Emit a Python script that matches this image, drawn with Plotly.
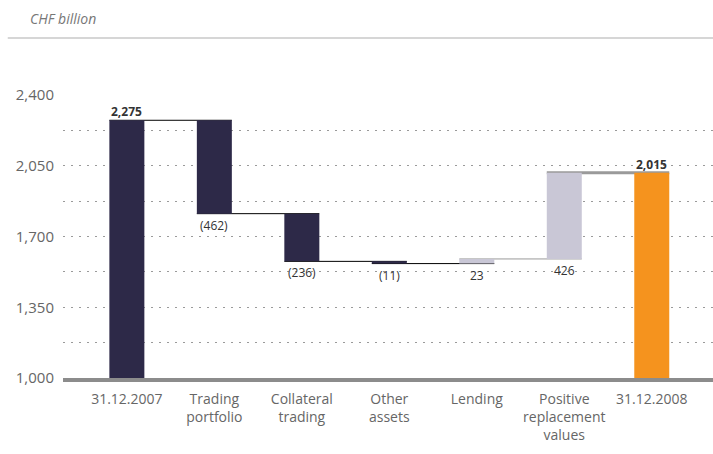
import plotly.graph_objects as go
import numpy as np

# CHF billion, balance sheet assets bridge 2007 -> 2008
categories = ['31.12.2007', 'Trading<br>portfolio', 'Collateral<br>trading', 'Other<br>assets',
              'Lending', 'Positive<br>replacement<br>values', '31.12.2008']
changes = [2275, -462, -236, -11, 23, 426]
total_2008 = 2015
labels = ['2,275', '(462)', '(236)', '(11)', '23', '426', '2,015']

navy = '#2d2948'
lilac = '#c9c7d6'
orange = '#f5931e'

# build bar bottoms / heights from the changes
level = np.cumsum(changes)
bases, heights, colors = [], [], []
bases.append(1000); heights.append(changes[0] - 1000); colors.append(navy)
for i in range(1, len(changes)):
    lo = min(level[i - 1], level[i])
    bases.append(lo)
    heights.append(abs(changes[i]))
    colors.append(navy if changes[i] < 0 else lilac)
bases.append(1000); heights.append(total_2008 - 1000); colors.append(orange)

xs = list(range(len(categories)))

fig = go.Figure()
fig.add_trace(go.Bar(x=xs, y=heights, base=bases, width=0.4,
                     marker=dict(color=colors, line=dict(width=0)),
                     hoverinfo='skip'))

# connectors between consecutive bars
for i in range(len(level)):
    col = 'black' if i < 4 else '#9a9a9a'
    lw = 1 if i < 5 else 3
    fig.add_shape(type='line', xref='x', yref='y', x0=i - 0.2, x1=i + 1.2,
                  y0=level[i], y1=level[i], line=dict(color=col, width=lw), layer='below')

# value labels
tops = [b + h for b, h in zip(bases, heights)]
for i, t in enumerate(labels):
    if i == 0 or i == len(labels) - 1:
        fig.add_annotation(x=i, y=tops[i], text='<b>' + t + '</b>', showarrow=False,
                           yanchor='bottom', yshift=-2, font=dict(size=12, color='#333'))
    else:
        fig.add_annotation(x=i, y=bases[i], text=t, showarrow=False,
                           yanchor='top', yshift=-1, font=dict(size=12, color='#333'))

# header
fig.add_annotation(xref='paper', yref='paper', x=-0.054, y=1.272, text='<i>CHF billion</i>',
                   showarrow=False, xanchor='left', yanchor='middle',
                   font=dict(size=14, color='#777'))
fig.add_shape(type='line', xref='paper', yref='paper', x0=-0.085, x1=1, y0=1.2014, y1=1.2014,
              line=dict(color='#c8c8c8', width=1.5))

fig.update_layout(
    width=713, height=454, autosize=False,
    margin=dict(l=63, r=0, t=95, b=76),
    paper_bgcolor='white', plot_bgcolor='white',
    showlegend=False,
    font=dict(family='Open Sans', color='#666'),
    xaxis=dict(tickmode='array', tickvals=xs, ticktext=categories, range=[-0.73, 6.7],
               showgrid=False, showline=True, linecolor='#8c8c8c', linewidth=4,
               tickfont=dict(size=14, color='#666'), ticks='', automargin=False,
               ticklabelstandoff=5),
    yaxis=dict(range=[1000, 2400], tickmode='array',
               tickvals=[1000, 1350, 1700, 2050, 2400],
               ticktext=['1,000', '1,350', '1,700', '2,050', '2,400'],
               tickfont=dict(size=15, color='#666'), showgrid=True,
               gridcolor='#9a9a9a', griddash='2px,6px', gridwidth=1, zeroline=False,
               minor=dict(dtick=175, tick0=1000, showgrid=True, gridcolor='#9a9a9a',
                          griddash='2px,6px', gridwidth=1),
               ticklabelstandoff=8, automargin=False),
)

fig.write_html("out.html", config={'displayModeBar': False},
               post_script="document.body.style.margin='0px';")
